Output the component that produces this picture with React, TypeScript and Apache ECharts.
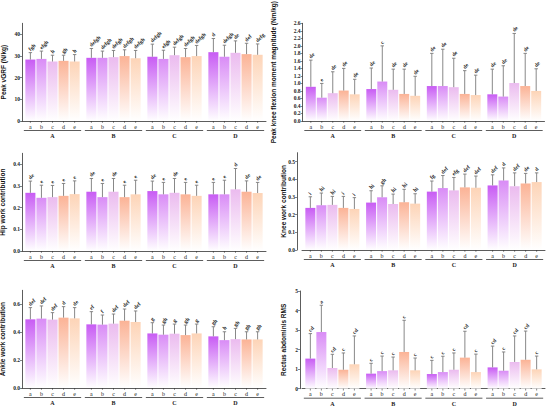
import React, { useEffect, useRef } from 'react';
import * as echarts from 'echarts';

const groups = ['A', 'B', 'C', 'D'];
const conditions = ['a', 'b', 'c', 'd', 'e'];
const barColors = ['#c85cf4', '#d98cf6', '#ebbbef', '#fbb396', '#fdd4b7'];

// values ordered A(a..e), B(a..e), C(a..e), D(a..e)
const vgrfMean = [28.3, 28.6, 27.4, 27.7, 27.4, 29.1, 29.1, 29.4, 29.9, 28.9, 29.6, 28.6, 30.3, 29.4, 29.9, 31.7, 29.6, 31.4, 30.8, 30.5];
const vgrfSd = [3.2, 3.6, 2.9, 2.6, 3.2, 4.3, 3.1, 3.1, 2.9, 3.6, 5.8, 4.0, 3.7, 4.0, 4.9, 6.3, 5.3, 5.5, 5.0, 5.0];
const vgrfLetters = ['fgh', 'efgh', 'h', 'gh', 'h', 'defgh', 'defgh', 'defgh', 'defgh', 'defgh', 'defgh', 'efgh', 'defgh', 'defgh', 'defgh', 'd', 'defgh', 'de', 'def', 'defg'];
const vgrfTicks = [0, 10, 20, 30, 40];

const kfmMean = [0.91, 0.62, 0.74, 0.81, 0.71, 0.85, 1.05, 0.83, 0.72, 0.67, 0.93, 0.93, 0.90, 0.72, 0.69, 0.71, 0.65, 1.01, 0.93, 0.80];
const kfmSd = [0.71, 0.38, 0.57, 0.59, 0.40, 0.56, 0.95, 0.55, 0.66, 0.52, 0.87, 0.98, 0.77, 0.62, 0.53, 0.67, 0.82, 1.32, 0.87, 0.59];
const kfmLetters = ['de', 'e', 'de', 'de', 'de', 'de', 'c', 'de', 'de', 'de', 'de', 'de', 'de', 'de', 'de', 'de', 'de', 'de', 'de', 'de'];
const kfmTicks = [0, 0.2, 0.4, 0.6, 0.8, 1.0, 1.2, 1.4, 1.6, 1.8, 2.0, 2.2, 2.4, 2.6];

const hipMean = [0.268, 0.245, 0.248, 0.254, 0.262, 0.273, 0.248, 0.273, 0.248, 0.261, 0.276, 0.261, 0.268, 0.261, 0.254, 0.261, 0.261, 0.284, 0.273, 0.267];
const hipSd = [0.054, 0.058, 0.054, 0.057, 0.061, 0.061, 0.063, 0.061, 0.055, 0.065, 0.046, 0.055, 0.066, 0.055, 0.049, 0.055, 0.065, 0.096, 0.050, 0.049];
const hipLetters = ['de', 'e', 'e', 'e', 'e', 'de', 'e', 'de', 'e', 'e', 'de', 'e', 'de', 'e', 'e', 'e', 'e', 'd', 'de', 'de'];
const hipTicks = [0, 0.1, 0.2, 0.3, 0.4];

const kneeMean = [0.238, 0.253, 0.255, 0.238, 0.232, 0.268, 0.298, 0.260, 0.270, 0.262, 0.330, 0.350, 0.337, 0.354, 0.352, 0.365, 0.393, 0.361, 0.376, 0.384];
const kneeSd = [0.063, 0.069, 0.048, 0.065, 0.064, 0.067, 0.065, 0.056, 0.073, 0.056, 0.060, 0.071, 0.073, 0.075, 0.066, 0.060, 0.071, 0.075, 0.057, 0.052];
const kneeLetters = ['i', 'hi', 'hi', 'i', 'i', 'hi', 'gh', 'hi', 'hi', 'hi', 'fg', 'def', 'efg', 'def', 'def', 'def', 'd', 'def', 'de', 'd'];
const kneeTicks = [0, 0.1, 0.2, 0.3, 0.4, 0.5];

const ankleMean = [0.492, 0.497, 0.490, 0.504, 0.499, 0.456, 0.454, 0.461, 0.482, 0.473, 0.391, 0.382, 0.389, 0.379, 0.391, 0.370, 0.343, 0.350, 0.348, 0.348];
const ankleSd = [0.084, 0.091, 0.050, 0.079, 0.077, 0.091, 0.069, 0.069, 0.084, 0.079, 0.077, 0.069, 0.069, 0.072, 0.067, 0.069, 0.060, 0.077, 0.055, 0.055];
const ankleLetters = ['def', 'def', 'def', 'd', 'de', 'ef', 'f', 'def', 'def', 'def', 'g', 'gh', 'g', 'gh', 'g', 'gh', 'h', 'gh', 'gh', 'gh'];
const ankleTicks = [0, 0.2, 0.4, 0.6];

const raMean = [1.54, 2.90, 1.06, 0.97, 1.25, 0.77, 0.90, 0.94, 1.88, 0.94, 0.75, 0.85, 0.97, 1.59, 0.85, 1.09, 0.92, 1.37, 1.48, 0.99];
const raSd = [1.28, 1.37, 0.70, 0.86, 1.45, 0.53, 0.77, 0.68, 1.62, 0.63, 0.70, 0.81, 0.86, 1.35, 0.92, 1.09, 0.96, 1.33, 1.47, 0.68];
const raLetters = ['cd', 'a', 'cd', 'c', 'cd', 'c', 'c', 'c', 'c', 'c', 'c', 'c', 'c', 'cd', 'c', 'cd', 'c', 'cd', 'cd', 'c'];
const raTicks = [0, 1, 2, 3, 4, 5];

const CAT_GAP = 0.11;
const BAR_GAP = 0.1;

const panels = [
  { title: 'Peak vGRF (N/kg)', mean: vgrfMean, sd: vgrfSd, letters: vgrfLetters, ticks: vgrfTicks, max: 45, interval: 10, digits: 0,
    grid: { left: 22, top: 23.3, width: 244, height: 97.7 }, nameGap: 15.5, yOffset: 0 },
  { title: 'Peak knee flexion moment magnitude (Nm/kg)', mean: kfmMean, sd: kfmSd, letters: kfmLetters, ticks: kfmTicks, max: 2.6, interval: 0.2, digits: 1,
    grid: { left: 302.5, top: 23.3, width: 242, height: 97.7 }, nameGap: 25.5, yOffset: 0 },
  { title: 'Hip work contribution', mean: hipMean, sd: hipSd, letters: hipLetters, ticks: hipTicks, max: 0.45, interval: 0.1, digits: 1,
    grid: { left: 22, top: 153.3, width: 244, height: 97.7 }, nameGap: 16, yOffset: 0 },
  { title: 'Knee work contribution', mean: kneeMean, sd: kneeSd, letters: kneeLetters, ticks: kneeTicks, max: 0.55, interval: 0.1, digits: 1,
    grid: { left: 302, top: 152.7, width: 243, height: 97.3 }, nameGap: 10, yOffset: 5 },
  { title: 'Ankle work contribution', mean: ankleMean, sd: ankleSd, letters: ankleLetters, ticks: ankleTicks, max: 0.7, interval: 0.2, digits: 1,
    grid: { left: 22, top: 290.3, width: 244, height: 97.7 }, nameGap: 16, yOffset: 0 },
  { title: 'Rectus abdominis RMS', mean: raMean, sd: raSd, letters: raLetters, ticks: raTicks, max: 5, interval: 1, digits: 0,
    grid: { left: 302, top: 291, width: 243, height: 97.7 }, nameGap: 13.3, yOffset: 2 },
];

const SERIF = 'Liberation Serif, Times New Roman, serif';
const SANS = 'Liberation Sans, Arial, sans-serif';

function makeRenderItem(letters: string[]) {
  return (params: any, api: any) => {
    const g = api.value(0);
    const i = api.value(1);
    const m = api.value(2);
    const s = api.value(3);
    const base = api.coord([g, 0]);
    const bw = api.size([1, 0])[0];
    const remained = bw * (1 - CAT_GAP);
    const w = remained / (5 + 4 * BAR_GAP);
    const cx = base[0] - remained / 2 + w / 2 + i * w * (1 + BAR_GAP);
    const yTop = api.coord([g, m])[1];
    const yErr = api.coord([g, m + s])[1];
    const y0 = base[1];
    const errStyle = { stroke: '#7a7a7a', lineWidth: 0.9 };
    const children: any[] = [
      { type: 'line', shape: { x1: cx, y1: yTop, x2: cx, y2: yErr }, style: errStyle },
      { type: 'line', shape: { x1: cx - 1.7, y1: yErr, x2: cx + 1.7, y2: yErr }, style: errStyle },
      {
        type: 'text', x: cx - 1.2, y: yErr - 2.8, rotation: Math.PI / 4,
        style: { text: letters[params.dataIndex], fontSize: 5.5, fontFamily: SERIF, fontWeight: 'bold', fill: '#222', align: 'left', verticalAlign: 'middle' },
      },
      { type: 'line', shape: { x1: cx, y1: y0, x2: cx, y2: y0 + 1.8 }, style: { stroke: '#333', lineWidth: 0.6 } },
      {
        type: 'text', x: cx, y: y0 + 5.5,
        style: { text: conditions[i], fontSize: 6, fontFamily: SERIF, fill: '#222', align: 'center', verticalAlign: 'middle' },
      },
    ];
    if (i === 0) {
      children.push({
        type: 'line',
        shape: { x1: base[0] - remained / 2 - 1.5, y1: y0 + 9.5, x2: base[0] + remained / 2 + 1.5, y2: y0 + 9.5 },
        style: { stroke: '#333', lineWidth: 0.8 },
      });
    }
    return { type: 'group', children };
  };
}

function buildOption() {
  const grid: any[] = [];
  const xAxis: any[] = [];
  const yAxis: any[] = [];
  const series: any[] = [];
  panels.forEach((p, k) => {
    grid.push({ ...p.grid, containLabel: false, outerBoundsMode: 'none' });
    xAxis.push({
      type: 'category', gridIndex: k, data: groups,
      axisLine: { show: true, lineStyle: { color: '#333', width: 0.8 } },
      axisTick: { show: false },
      axisLabel: { fontSize: 6, fontWeight: 'bold', fontFamily: SERIF, color: '#222', margin: 12 },
    });
    yAxis.push({
      type: 'value', gridIndex: k, min: 0, max: p.max, interval: p.interval, offset: p.yOffset,
      name: p.title, nameLocation: 'middle', nameGap: p.nameGap, nameRotate: 90, nameMoveOverlap: false,
      nameTextStyle: { fontSize: 6.5, fontWeight: 'bold', fontFamily: SANS, color: '#111' },
      axisLine: { show: true, lineStyle: { color: '#333', width: 0.8 } },
      axisTick: { show: true, length: 2, lineStyle: { color: '#333', width: 0.6 }, customValues: p.ticks },
      axisLabel: {
        fontSize: 5.5, fontWeight: 'bold', fontFamily: SERIF, color: '#222', margin: 2,
        customValues: p.ticks,
        formatter: (v: number) => (p.ticks.some((t) => Math.abs(t - v) < 1e-9) ? v.toFixed(p.digits) : ''),
      },
      splitLine: { show: false },
    });
    conditions.forEach((c, i) => {
      series.push({
        type: 'bar', name: c, xAxisIndex: k, yAxisIndex: k,
        barGap: `${BAR_GAP * 100}%`, barCategoryGap: `${CAT_GAP * 100}%`,
        data: groups.map((_, g) => p.mean[g * 5 + i]),
        itemStyle: {
          color: new echarts.graphic.LinearGradient(0, 0, 0, 1, [
            { offset: 0, color: barColors[i] },
            { offset: 1, color: '#ffffff' },
          ]),
        },
        z: 2,
      });
    });
    const data: number[][] = [];
    groups.forEach((_, g) => conditions.forEach((__, i) => data.push([g, i, p.mean[g * 5 + i], p.sd[g * 5 + i]])));
    series.push({
      type: 'custom', xAxisIndex: k, yAxisIndex: k, clip: false, z: 3,
      renderItem: makeRenderItem(p.letters),
      encode: { x: 0, y: 2 },
      data,
    });
  });
  return { animation: false, backgroundColor: '#ffffff', grid, xAxis, yAxis, series };
}

export default function App() {
  const ref = useRef<HTMLDivElement>(null);
  useEffect(() => {
    if (!ref.current) return;
    const chart = echarts.init(ref.current, undefined, { renderer: 'svg' });
    chart.setOption(buildOption() as any);
    return () => chart.dispose();
  }, []);
  return <div ref={ref} style={{ position: 'absolute', left: 0, top: 0, width: 550, height: 407, background: '#fff' }} />;
}
